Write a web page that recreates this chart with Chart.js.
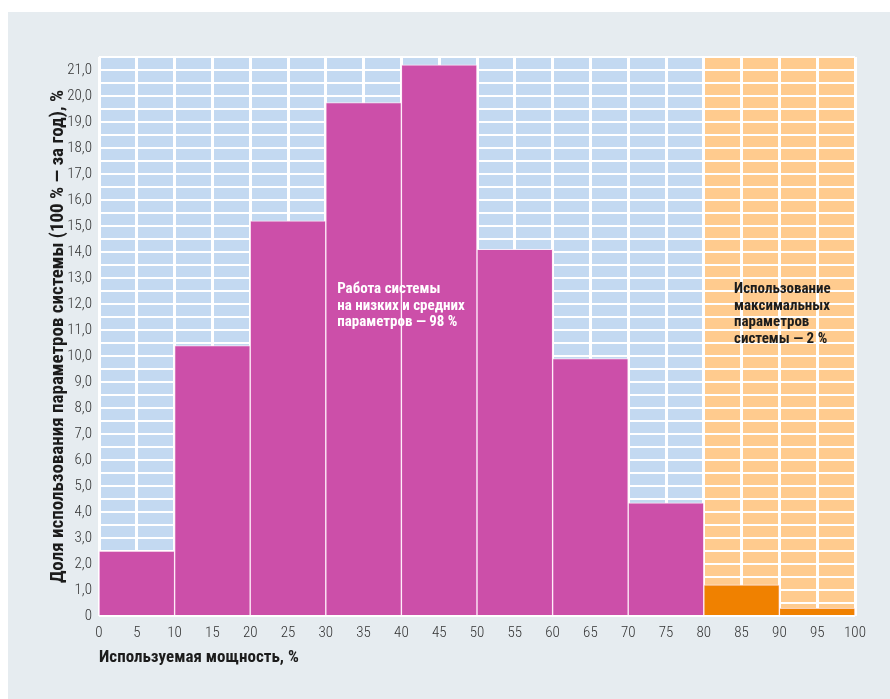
<!DOCTYPE html>
<html lang="ru">
<head>
<meta charset="utf-8">
<title>Использование мощности системы</title>
<script src="https://cdn.jsdelivr.net/npm/chart.js@4/dist/chart.umd.min.js"></script>
<style>
  html, body { margin: 0; padding: 0; background: #ffffff; }
  #panel { position: absolute; left: 8px; top: 12px; width: 882px; height: 687px; background: #e6ecf0; }
  #wrap { position: absolute; left: 0; top: 0; width: 890px; height: 699px; }
</style>
</head>
<body>
<div id="panel"></div>
<div id="wrap"><canvas id="chart" width="890" height="699"></canvas></div>
<script>
// Bins of used capacity, %, and the share of the year spent in each bin, %
const binCenters = [5, 15, 25, 35, 45, 55, 65, 75, 85, 95];
const shares = [2.5, 10.4, 15.2, 19.75, 21.2, 14.1, 9.9, 4.35, 1.2, 0.3];
const binGroup = ['low', 'low', 'low', 'low', 'low', 'low', 'low', 'low', 'max', 'max'];

const xTickValues = [0, 5, 10, 15, 20, 25, 30, 35, 40, 45, 50, 55, 60, 65, 70, 75, 80, 85, 90, 95, 100];
const binEdges = [0, 10, 20, 30, 40, 50, 60, 70, 80, 90, 100];
const yMax = 21.5;

const xTitle = 'Используемая мощность, %';
const yTitle = 'Доля использования параметров системы (100 % — за год), %';
const lowNote = ['Работа системы', 'на низких и средних', 'параметров — 98 %'];
const maxNote = ['Использование', 'максимальных', 'параметров', 'системы — 2 %'];

const FONT = "'Roboto Condensed', 'Open Sans', sans-serif";
const groupColor = { low: '#cc4fa9', max: '#f08100' };
const zoneColor = { low: '#c3d9f1', max: '#ffcb8e' };

// Coloured zones behind the grid: 0–80 % and 80–100 %
const zones = {
  id: 'zones',
  beforeDraw(chart) {
    const { ctx, chartArea, scales: { x } } = chart;
    const split = x.getPixelForValue(80);
    ctx.save();
    ctx.fillStyle = zoneColor.low;
    ctx.fillRect(chartArea.left, chartArea.top, split - chartArea.left, chartArea.bottom - chartArea.top);
    ctx.fillStyle = zoneColor.max;
    ctx.fillRect(split, chartArea.top, chartArea.right - split, chartArea.bottom - chartArea.top);
    ctx.restore();
  }
};

// Multi-line notes placed in data coordinates
const notes = {
  id: 'notes',
  afterDatasetsDraw(chart, args, opts) {
    const { ctx, scales: { x, y } } = chart;
    ctx.save();
    ctx.font = 'bold 15px ' + FONT;
    ctx.textBaseline = 'middle';
    ctx.textAlign = 'left';
    opts.items.forEach(item => {
      ctx.fillStyle = item.color;
      const px = x.getPixelForValue(item.x);
      const py = y.getPixelForValue(item.y);
      item.lines.forEach((line, i) => ctx.fillText(line, px, py + i * 16.5));
    });
    ctx.restore();
  }
};

new Chart(document.getElementById('chart'), {
  type: 'bar',
  data: {
    datasets: [{
      xAxisID: 'bins',
      data: binCenters.map((c, i) => ({ x: c, y: shares[i] })),
      backgroundColor: binGroup.map(g => groupColor[g]),
      borderColor: 'rgba(255, 236, 248, 0.9)',
      borderWidth: 1,
      barPercentage: 1,
      categoryPercentage: 1
    }]
  },
  options: {
    responsive: false,
    animation: false,
    layout: { padding: { top: 57, right: 35, left: 0, bottom: 0 } },
    plugins: {
      legend: { display: false },
      tooltip: { enabled: false },
      notes: {
        items: [
          { x: 31.5, y: 12.55, color: '#ffffff', lines: lowNote },
          { x: 84, y: 12.55, color: '#1c1c1c', lines: maxNote }
        ]
      }
    },
    scales: {
      // hidden axis with one tick per 10 % bin, so each bar spans its full bin
      bins: {
        type: 'linear',
        display: false,
        offset: false,
        min: 0,
        max: 100,
        afterBuildTicks: s => { s.ticks = binEdges.map(v => ({ value: v })); }
      },
      x: {
        type: 'linear',
        position: 'bottom',
        offset: false,
        min: 0,
        max: 100,
        afterBuildTicks: s => { s.ticks = xTickValues.map(v => ({ value: v })); },
        afterFit: s => { s.height = 83; },
        grid: { color: '#ffffff', lineWidth: 3, drawTicks: false, offset: false },
        border: { display: false },
        ticks: {
          padding: 8,
          color: '#333333',
          font: { family: FONT, size: 15, weight: '300' },
          maxRotation: 0,
          autoSkip: false
        },
        title: {
          display: true,
          text: xTitle,
          align: 'start',
          color: '#1c1c1c',
          font: { family: FONT, size: 17, weight: 'bold' },
          padding: { top: 0, bottom: 31 }
        }
      },
      y: {
        min: 0,
        max: yMax,
        afterFit: s => { s.width = 99; },
        grid: { color: '#ffffff', lineWidth: 2, drawTicks: false },
        border: { display: false },
        ticks: {
          stepSize: 0.5,
          autoSkip: false,
          padding: 7,
          color: '#333333',
          font: { family: FONT, size: 15, weight: '300' },
          callback: v => Number.isInteger(v) && v <= 21 ? (v === 0 ? '0' : v.toFixed(1).replace('.', ',')) : ''
        },
        title: {
          display: true,
          text: yTitle,
          color: '#1c1c1c',
          font: { family: FONT, size: 19, weight: 'bold' },
          padding: { top: 47, bottom: 0 }
        }
      }
    }
  },
  plugins: [zones, notes]
});
</script>
</body>
</html>
